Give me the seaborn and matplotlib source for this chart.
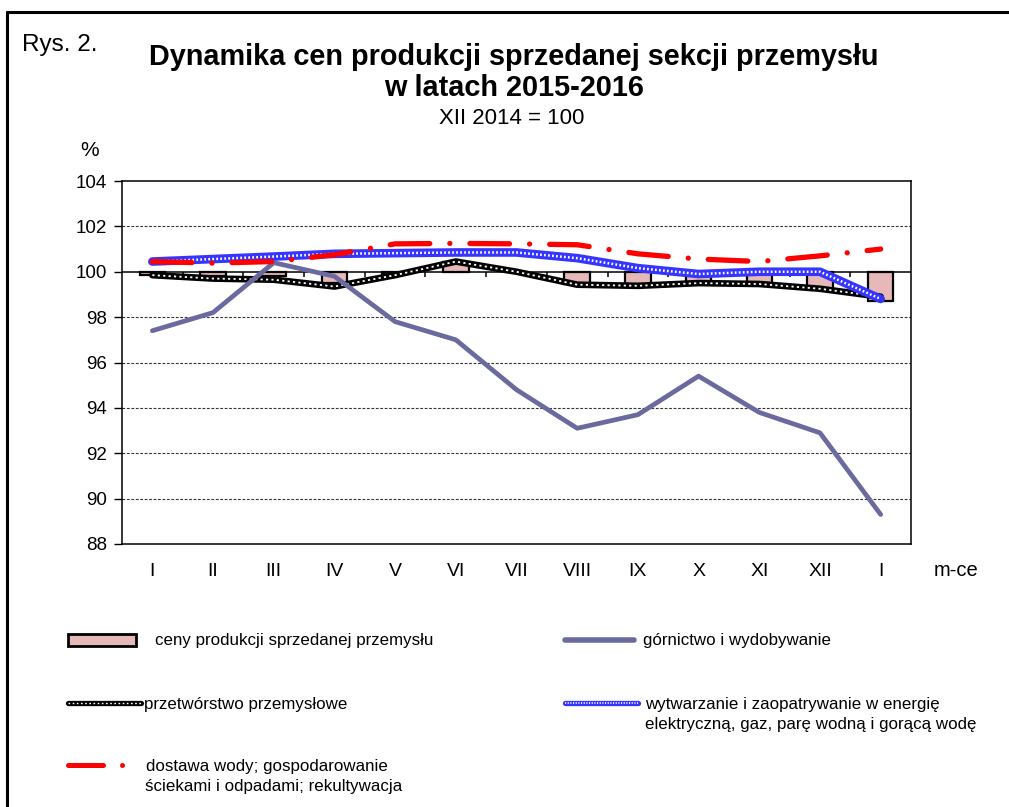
import numpy as np
import pandas as pd
import matplotlib
matplotlib.use("Agg")
import matplotlib.pyplot as plt
import seaborn as sns
from matplotlib.lines import Line2D
from matplotlib.patches import Patch
from matplotlib.legend_handler import HandlerTuple

# ---------------- data ----------------
months = ["I", "II", "III", "IV", "V", "VI", "VII", "VIII", "IX", "X", "XI", "XII", "I"]
ceny = [99.85, 99.8, 99.8, 99.5, 99.9, 100.45, 100.0, 99.45, 99.35, 99.5, 99.5, 99.25, 98.7]
gornictwo = [97.4, 98.2, 100.4, 99.8, 97.8, 97.0, 94.8, 93.1, 93.7, 95.4, 93.8, 92.9, 89.3]
przetworstwo = [99.85, 99.7, 99.65, 99.35, 99.85, 100.45, 100.0, 99.43, 99.38, 99.5, 99.46, 99.25, 98.9]
wytwarzanie = [100.45, 100.56, 100.67, 100.79, 100.82, 100.85, 100.85, 100.6, 100.16, 99.9, 100.0, 100.0, 98.8]
dostawa = [100.45, 100.38, 100.45, 100.75, 101.23, 101.25, 101.23, 101.19, 100.79, 100.56, 100.45, 100.7, 101.0]
yticks = [88, 90, 92, 94, 96, 98, 100, 102, 104]

labels = {
    "ceny": "ceny produkcji sprzedanej przemysłu",
    "gorn": "górnictwo i wydobywanie",
    "przetw": "przetwórstwo przemysłowe",
    "wytw": "wytwarzanie i zaopatrywanie w energię\nelektryczną, gaz, parę wodną i gorącą wodę",
    "dost": "dostawa wody; gospodarowanie\nściekami i odpadami; rekultywacja",
}
title1 = "Dynamika cen produkcji sprzedanej sekcji przemysłu"
title2 = "w latach 2015-2016"
subtitle = "XII 2014 = 100"

# ---------------- style ----------------
sns.set_theme(style="white")
REG = ["Liberation Sans", "DejaVu Sans"]
plt.rcParams["font.family"] = REG
plt.rcParams["text.color"] = "black"
plt.rcParams["xtick.color"] = "black"
plt.rcParams["ytick.color"] = "black"
plt.rcParams["axes.labelcolor"] = "black"

PINK = "#E6B9B8"
SLATE = "#6A6A9E"
BLUE = "#3535FF"
RED = "#FF0000"

W, H = 1009, 807
fig = plt.figure(figsize=(W / 100, H / 100), dpi=100)
fig.patch.set_facecolor("white")

def fx(px):
    return px / W

def fy(py):
    return 1 - py / H

ax = fig.add_axes([fx(122), fy(544), fx(911) - fx(122), fy(181) - fy(544)])

df = pd.DataFrame({
    "x": np.arange(len(months)),
    "ceny": ceny,
    "gornictwo": gornictwo,
    "przetworstwo": przetworstwo,
    "wytwarzanie": wytwarzanie,
    "dostawa": dostawa,
})
df["ceny_delta"] = df["ceny"] - 100

# grid
for v in yticks:
    if v in (88, 104, 100):
        continue
    ax.axhline(v, color="#333333", lw=0.8, ls=(0, (2.5, 1.5)), zorder=0)

# bars from 100
sns.barplot(data=df, x="x", y="ceny_delta", bottom=100, color=PINK, width=0.42,
            edgecolor="black", linewidth=1.6, saturation=1, ax=ax, zorder=2)

# axis line at 100 with category ticks
ax.axhline(100, color="black", lw=1.1, zorder=1.5)
ax.vlines(np.arange(len(months) - 1) + 0.5, 99.75, 100, color="black", lw=1.1, zorder=1.5)

# przetwórstwo: black with white dashes
sns.lineplot(data=df, x="x", y="przetworstwo", color="black", lw=4.8, ax=ax, zorder=3)
ax.plot(df["x"], df["przetworstwo"], color="white", lw=1.3, ls=(0, (1.2, 1.8)), zorder=3.1)

# górnictwo
sns.lineplot(data=df, x="x", y="gornictwo", color=SLATE, lw=3.4, ax=ax, zorder=4)

# wytwarzanie: blue checked
sns.lineplot(data=df, x="x", y="wytwarzanie", color=BLUE, lw=6.2, ax=ax, zorder=5)
ax.plot(df["x"], df["wytwarzanie"], color="white", lw=1.8, ls=(0, (0.7, 0.9)), zorder=5.1)

# dostawa: red dash-dot
sns.lineplot(data=df, x="x", y="dostawa", color=RED, lw=3.8, ax=ax, zorder=6,
             dashes=False)
ax.lines[-1].set_linestyle((0, (7.5, 3.8, 0.01, 3.8)))
ax.lines[-1].set_dash_capstyle("round")

ax.set_xlim(-0.5, len(months) - 0.5)
ax.set_ylim(88, 104)
ax.set_yticks(yticks)
ax.set_yticklabels([str(v) for v in yticks], fontsize=13.5, color="black")
ax.set_xticks(np.arange(len(months)))
ax.set_xticklabels(months, fontsize=14, color="black")
ax.tick_params(axis="y", direction="out", length=6, width=1, color="black", pad=5, left=True)
ax.tick_params(axis="x", length=0, pad=14)
ax.set_xlabel("")
ax.set_ylabel("")
for s in ax.spines.values():
    s.set_visible(True)
    s.set_color("black")
    s.set_linewidth(1.1)
ax.grid(False)

# texts
fig.text(fx(22), fy(45), "Rys. 2.", fontsize=17.5, va="center", ha="left")
fig.text(fx(514), fy(57), title1, fontsize=20.8, fontweight="bold", ha="center", va="center")
fig.text(fx(514), fy(88), title2, fontsize=20.8, fontweight="bold", ha="center", va="center")
fig.text(fx(512), fy(118), subtitle, fontsize=16, ha="center", va="center")
fig.text(fx(90), fy(150), "%", fontsize=15, ha="center", va="center")
fig.text(fx(956), fy(570), "m-ce", fontsize=14.5, ha="center", va="center")

# frame around figure (top and left)
fig.add_artist(Line2D([fx(7), fx(7)], [fy(12), fy(H + 5)], color="black", lw=2.2, transform=fig.transFigure))
fig.add_artist(Line2D([fx(7), fx(W + 5)], [fy(12), fy(12)], color="black", lw=2.2, transform=fig.transFigure))

# legend entries
LFS = 12.2
def entry(handle, text, x, y, hl, tpad, second=None, tx=None):
    leg = fig.legend(handles=[handle], labels=[text], loc="center left",
                     bbox_to_anchor=(fx(x), fy(y)), frameon=False, borderpad=0,
                     borderaxespad=0, handlelength=hl, handletextpad=tpad,
                     prop={"size": LFS}, labelcolor="black",
                     handler_map={tuple: HandlerTuple(ndivide=1)})
    if second is not None:
        fig.text(fx(tx), fy(y + 20), second, fontsize=LFS, ha="left", va="center")
    return leg

entry(Patch(facecolor=PINK, edgecolor="black", linewidth=2), labels["ceny"], 68, 641, 4.0, 1.15)
entry(Line2D([], [], color=SLATE, lw=4), labels["gorn"], 565, 641, 4.1, 0.5)
entry((Line2D([], [], color="black", lw=3.8), Line2D([], [], color="white", lw=1, ls=(0, (1.2, 1.8)))),
      labels["przetw"], 68, 704, 4.3, 0.2)
w1, w2 = labels["wytw"].split("\n")
entry((Line2D([], [], color=BLUE, lw=3.8), Line2D([], [], color="white", lw=1.2, ls=(0, (0.7, 0.9)))),
      w1, 565, 704, 4.3, 0.4, second=w2, tx=645)
d1, d2 = labels["dost"].split("\n")
entry(Line2D([], [], color=RED, lw=3.6, ls=(0, (7, 3.8, 0.01, 3.8)), dash_capstyle="round"),
      d1, 68, 766, 4.3, 0.3, second=d2, tx=145)

fig.savefig("out.png", dpi=100, facecolor="white")
